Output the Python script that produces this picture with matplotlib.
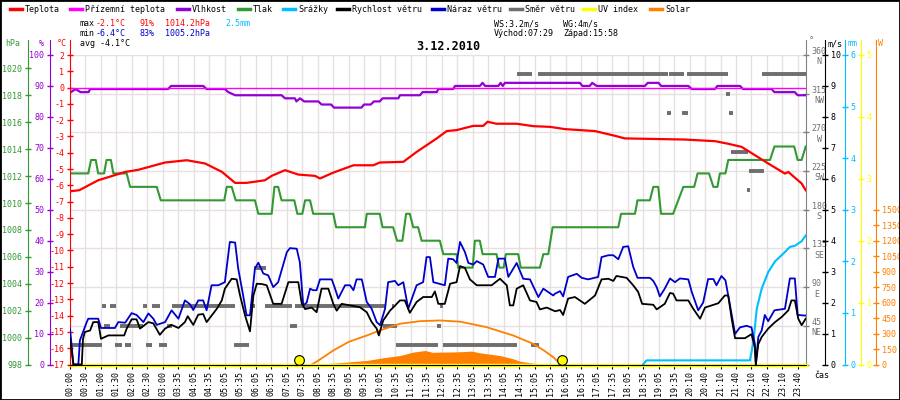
import matplotlib
matplotlib.use('Agg')
import matplotlib.pyplot as plt
from matplotlib.lines import Line2D
from matplotlib.patches import Rectangle

plt.rcParams['font.family'] = ['DejaVu Sans Mono', 'DejaVu Sans']
plt.rcParams['font.size'] = 6
plt.rcParams['axes.unicode_minus'] = False

# x axis: hours, every label slot is half an hour
time_labels = ["00:00", "00:30", "01:00", "01:30", "02:00", "02:30", "03:00", "03:35",
               "04:05", "04:35", "05:05", "05:35", "06:05", "06:35", "07:05", "07:35",
               "08:05", "08:35", "09:05", "09:35", "10:05", "10:35", "11:05", "11:35",
               "12:05", "12:35", "13:05", "13:35", "14:05", "14:35", "15:05", "15:35",
               "16:05", "16:35", "17:05", "17:35", "18:05", "18:35", "19:05", "19:35",
               "20:10", "20:40", "21:10", "21:40", "22:10", "22:40", "23:10", "23:40"]

temp_h = [0.03, 0.3, 0.91, 1.78, 2.2, 3.07, 3.77, 4.36, 4.9, 5.33, 5.7, 6.29, 6.51, 6.94,
          7.37, 7.91, 8.07, 8.5, 9.15, 9.79, 10.0, 10.76, 11.19, 11.84, 12.16, 12.48, 13.02,
          13.34, 13.48, 13.77, 14.42, 14.96, 15.49, 15.98, 16.95, 17.59, 17.91, 19.85, 20.82,
          21.25, 21.68, 22.11, 22.54, 23.08, 23.19, 23.62, 23.75]
temp = [-6.36, -6.3, -5.69, -5.18, -5.05, -4.6, -4.46, -4.66, -5.17, -5.85, -5.85, -5.69,
        -5.42, -5.07, -5.34, -5.42, -5.58, -5.22, -4.77, -4.77, -4.6, -4.56, -3.95, -3.12,
        -2.67, -2.61, -2.35, -2.35, -2.1, -2.22, -2.22, -2.37, -2.41, -2.55, -2.67, -2.96,
        -3.12, -3.19, -3.29, -3.45, -3.64, -4.15, -4.66, -5.28, -5.18, -5.89, -6.3]

ground_h = [0.0, 23.76]
ground_temp = [0.0, 0.0]

hum_h = [0.03, 0.18, 0.34, 0.6, 0.65, 3.17, 3.26, 4.3, 4.41, 5.0, 5.11, 5.33, 6.83, 6.94,
         7.26, 7.31, 7.425, 7.56, 8.02, 8.12, 8.43, 8.52, 9.41, 9.49, 9.71, 9.81, 10.0, 10.09,
         10.6, 10.65, 11.3, 11.38, 11.84, 11.89, 12.37, 12.43, 13.23, 13.32, 13.4, 13.83,
         13.9, 13.97, 14.04, 16.46, 16.54, 16.78, 16.86, 17.0, 18.56, 18.65, 19.0, 19.08,
         19.96, 20.07, 20.82, 20.9, 21.63, 21.73, 22.65, 22.74, 23.4, 23.49, 23.75]
hum = [88, 89, 88, 88, 89, 89, 90, 90, 89, 89, 88, 87, 87, 86, 86, 85, 86, 85, 85, 84, 84,
       83, 83, 84, 84, 85, 85, 86, 86, 87, 87, 88, 88, 89, 89, 90, 90, 91, 90, 90, 91, 90,
       91, 91, 90, 90, 91, 90, 90, 91, 91, 90, 90, 89, 89, 90, 90, 89, 89, 88, 88, 87, 87]

pres_h = [0.03, 0.59, 0.68, 0.83, 0.91, 1.1, 1.18, 1.32, 1.4, 1.83, 1.94, 2.8, 2.93, 4.98,
          5.06, 5.22, 5.35, 5.97, 6.08, 6.51, 6.6, 6.72, 6.83, 7.24, 7.34, 7.5, 7.59, 7.75,
          7.85, 8.5, 8.59, 9.52, 9.58, 10.0, 10.09, 10.43, 10.56, 10.73, 10.85, 10.97, 11.08,
          11.24, 11.35, 11.94, 12.05, 12.48, 12.53, 13.0, 13.07, 13.23, 13.32, 13.77, 13.86,
          14.0, 14.07, 14.47, 14.55, 15.17, 15.28, 15.44, 15.58, 17.7, 17.79, 18.24, 18.32,
          18.72, 18.83, 18.99, 19.08, 19.47, 19.8, 20.15, 20.26, 20.63, 20.77, 20.9, 20.98,
          21.16, 21.25, 22.6, 22.74, 23.38, 23.49, 23.62, 23.75]
pres = [1012.2, 1012.2, 1013.2, 1013.2, 1012.2, 1012.2, 1013.2, 1013.2, 1012.2, 1012.2,
        1011.2, 1011.2, 1010.2, 1010.2, 1011.2, 1011.2, 1010.2, 1010.2, 1009.2, 1009.2,
        1011.2, 1011.2, 1010.2, 1010.2, 1009.2, 1009.2, 1010.2, 1010.2, 1009.2, 1009.2,
        1008.2, 1008.2, 1009.2, 1009.2, 1008.2, 1008.2, 1007.2, 1007.2, 1009.2, 1009.2,
        1008.2, 1008.2, 1007.2, 1007.2, 1006.2, 1006.2, 1005.2, 1005.2, 1007.2, 1007.2,
        1006.2, 1006.2, 1005.2, 1005.2, 1006.2, 1006.2, 1005.2, 1005.2, 1006.2, 1006.2,
        1008.2, 1008.2, 1009.2, 1009.2, 1010.2, 1010.2, 1011.2, 1011.2, 1009.2, 1009.2,
        1011.2, 1011.2, 1012.2, 1012.2, 1011.2, 1011.2, 1012.2, 1012.2, 1013.2, 1013.2,
        1014.2, 1014.2, 1013.2, 1013.2, 1014.2]

gust_h = [0.0, 0.11, 0.27, 0.32, 0.54, 0.59, 0.91, 1.0, 1.45, 1.56, 1.78, 1.99, 2.15, 2.37,
          2.53, 2.69, 2.8, 3.07, 3.28, 3.5, 3.71, 3.87, 3.98, 4.14, 4.3, 4.41, 4.57, 4.79,
          5.0, 5.16, 5.33, 5.43, 5.59, 5.7, 5.81, 5.97, 6.08, 6.24, 6.4, 6.56, 6.72, 7.0,
          7.1, 7.32, 7.42, 7.53, 7.64, 7.75, 7.85, 7.96, 8.07, 8.45, 8.55, 8.66, 8.88, 9.04,
          9.15, 9.25, 9.42, 9.58, 9.74, 9.9, 10.01, 10.17, 10.27, 10.49, 10.6, 10.76, 10.92,
          11.19, 11.4, 11.51, 11.62, 11.73, 12.1, 12.21, 12.37, 12.48, 12.59, 12.75, 12.86,
          13.02, 13.13, 13.34, 13.5, 13.72, 13.83, 14.04, 14.15, 14.42, 14.63, 14.85, 15.12,
          15.28, 15.6, 15.66, 15.82, 15.92, 16.08, 16.36, 16.52, 16.73, 17.05, 17.16, 17.38,
          17.54, 17.7, 17.86, 18.02, 18.18, 18.32, 18.72, 18.83, 18.94, 19.04, 19.2, 19.37,
          19.53, 19.69, 19.96, 20.07, 20.28, 20.44, 20.6, 20.77, 20.87, 21.03, 21.16, 21.3,
          21.47, 21.63, 21.84, 22.0, 22.11, 22.14, 22.22, 22.33, 22.43, 22.54, 22.74, 23.08,
          23.24, 23.4, 23.49, 23.75]
gust = [1.16, 0.0, 0.0, 0.78, 1.37, 1.48, 1.48, 1.18, 1.18, 1.37, 1.35, 1.66, 1.6, 1.37,
        1.65, 1.48, 1.28, 1.37, 1.75, 1.48, 2.07, 1.95, 1.76, 2.07, 2.07, 1.75, 2.56, 2.56,
        2.66, 3.96, 3.94, 3.1, 2.23, 1.59, 1.59, 3.1, 3.29, 2.94, 2.88, 2.5, 2.66, 3.63,
        3.76, 3.74, 3.3, 1.91, 2.0, 2.45, 2.4, 2.4, 2.75, 2.75, 2.47, 2.13, 2.56, 2.56,
        2.4, 2.75, 2.75, 2.02, 1.8, 1.37, 1.27, 1.8, 2.66, 2.7, 2.56, 2.66, 1.8, 2.56,
        2.66, 3.47, 3.47, 2.66, 2.56, 3.42, 3.4, 3.28, 3.96, 3.63, 3.28, 3.23, 3.34, 3.23,
        2.83, 2.83, 3.42, 3.42, 2.83, 3.28, 2.77, 2.75, 2.18, 2.45, 2.23, 2.29, 2.37, 2.2,
        2.83, 2.93, 2.8, 2.75, 2.83, 3.47, 3.53, 3.53, 3.4, 3.8, 3.82, 3.16, 2.8, 2.8, 2.7,
        2.5, 2.2, 2.45, 2.78, 2.66, 2.78, 2.75, 2.35, 1.75, 2.0, 2.76, 2.76, 2.56, 2.86,
        2.72, 1.95, 0.99, 1.2, 1.25, 1.2, 0.66, 0.0, 0.89, 1.1, 1.6, 1.4, 1.75, 1.8, 2.78,
        2.78, 1.6, 1.58]

speed_h = [0.0, 0.11, 0.38, 0.42, 0.48, 0.65, 0.75, 0.91, 1.0, 1.24, 1.75, 1.83, 1.99, 2.15,
           2.26, 2.53, 2.69, 2.9, 3.07, 3.28, 3.5, 3.71, 3.8, 3.98, 4.14, 4.3, 4.41, 4.74,
           4.9, 5.0, 5.22, 5.38, 5.49, 5.65, 5.81, 5.92, 6.03, 6.19, 6.35, 6.56, 6.83, 7.05,
           7.37, 7.48, 7.59, 7.8, 7.96, 8.12, 8.34, 8.5, 8.61, 8.77, 9.36, 9.58, 9.74, 9.9,
           9.97, 10.11, 10.33, 10.49, 10.65, 10.81, 10.97, 11.19, 11.4, 11.68, 11.78, 11.89,
           12.1, 12.27, 12.48, 12.59, 12.75, 12.91, 13.13, 13.61, 13.88, 14.1, 14.2, 14.31,
           14.42, 14.63, 14.85, 15.06, 15.17, 15.39, 15.66, 15.82, 15.92, 16.08, 16.3, 16.62,
           16.95, 17.16, 17.38, 17.54, 17.64, 17.97, 18.18, 18.34, 18.47, 18.83, 18.94, 19.2,
           19.37, 19.47, 19.58, 19.96, 20.12, 20.34, 20.5, 20.93, 21.14, 21.25, 21.36, 21.47,
           21.79, 22.0, 22.11, 22.14, 22.22, 22.33, 22.54, 22.76, 22.97, 23.19, 23.29, 23.4,
           23.51, 23.62, 23.75]
speed = [0.83, 0.0, 0.0, 0.83, 1.05, 1.1, 1.37, 1.37, 0.83, 0.94, 0.94, 1.16, 1.46, 1.46,
         1.16, 1.37, 1.33, 0.96, 1.16, 1.28, 1.18, 1.37, 1.56, 1.28, 1.61, 1.63, 1.37, 1.8,
         2.07, 2.45, 2.77, 2.75, 2.23, 1.59, 1.07, 2.23, 2.61, 2.6, 2.56, 1.96, 1.96, 2.66,
         2.66, 1.98, 1.79, 1.84, 1.69, 2.45, 2.45, 1.96, 1.74, 1.96, 1.85, 1.69, 1.37, 1.16,
         0.94, 1.42, 1.74, 1.9, 2.07, 2.07, 1.67, 2.02, 2.18, 2.18, 2.36, 1.96, 1.96, 2.61,
         2.66, 3.18, 3.12, 2.75, 2.56, 2.56, 2.77, 2.56, 1.91, 1.91, 2.45, 2.56, 2.07, 2.02,
         1.78, 1.84, 1.72, 1.76, 1.6, 2.13, 2.18, 1.96, 2.23, 2.75, 2.77, 2.7, 2.86, 2.8,
         2.56, 2.35, 1.96, 1.93, 1.78, 1.96, 2.31, 2.29, 2.07, 2.07, 1.8, 1.48, 1.84, 1.98,
         2.23, 2.23, 1.48, 0.85, 0.85, 0.98, 0.55, 0.0, 0.66, 0.89, 1.16, 1.37, 1.53, 1.75,
         2.07, 2.07, 1.48, 1.27, 1.48]

rain_h = [18.5, 18.61, 21.95, 22.06, 22.17, 22.33, 22.54, 22.76, 23.08, 23.24, 23.4, 23.62, 23.75]
rain = [0.0, 0.08, 0.08, 0.43, 1.08, 1.47, 1.79, 2.0, 2.18, 2.28, 2.3, 2.39, 2.5]

solar_max_h = [7.8, 8.0, 8.5, 9.0, 9.58, 10.0, 10.65, 11.3, 11.94, 12.6, 13.45, 14.0, 14.31,
               14.95, 15.3, 15.6, 15.85]
solar_max = [0, 35, 136, 220, 281, 330, 395, 420, 427, 415, 362, 310, 281, 201, 136, 71, 0]

solar_h = [7.8, 8.0, 8.5, 9.0, 9.58, 10.1, 10.65, 11.08, 11.46, 11.7, 12.0, 12.4, 12.7,
           12.97, 13.2, 13.45, 13.88, 14.31, 14.52, 14.95, 15.3, 15.6, 15.9]
solar = [0, 5, 13, 25, 39, 65, 87, 120, 136, 118, 120, 122, 125, 130, 115, 104, 87, 55, 32,
         13, 6, 3, 0]

uv_h = [0.0, 23.76]
uv = [0.0, 0.0]

sun_h = [7.40, 15.89]   # Východ 07:29, Západ 15:58

# wind direction bars: start, end, degrees
dir_start = [0.0, 0.03, 1.45, 1.78, 2.45, 2.88, 5.30, 10.52, 12.03, 14.87,
             1.11, 1.61, 3.12, 7.10, 10.11, 11.84,
             1.02, 1.29, 2.37, 2.64, 3.30, 5.81, 6.29, 7.26, 10.38, 11.94,
             5.94,
             14.44, 15.12, 19.35, 19.93, 22.35,
             21.18, 19.26, 19.75, 21.27, 21.33, 21.93, 21.86]
dir_end = [0.06, 1.04, 1.67, 1.96, 2.64, 3.14, 5.79, 11.89, 14.44, 15.13,
           1.30, 2.37, 3.28, 7.32, 10.55, 11.97,
           1.15, 1.48, 2.47, 2.90, 5.33, 5.97, 7.16, 10.17, 10.46, 12.05,
           6.33,
           14.90, 19.29, 19.82, 21.23, 23.82,
           21.30, 19.40, 19.96, 21.41, 21.88, 22.41, 21.96]
dir_deg = [28, 22.5, 22.5, 22.5, 22.5, 22.5, 22.5, 22.5, 22.5, 22.5,
           45, 45, 45, 45, 45, 45,
           67.5, 67.5, 67.5, 67.5, 67.5, 67.5, 67.5, 67.5, 67.5, 67.5,
           112.5,
           337.5, 337.5, 337.5, 337.5, 337.5,
           315, 292.5, 292.5, 292.5, 247.5, 225, 202.5]

dir_ticks = [0, 45, 90, 135, 180, 225, 270, 315, 360]
dir_names = ['', 'NE', 'E', 'SE', 'S', 'SW', 'W', 'NW', 'N']

C_T, C_GT, C_H, C_P, C_R = '#ff0000', '#ff00ff', '#9400d3', '#339933', '#00bfff'
C_WS, C_WG, C_D, C_UV, C_SOL = '#000000', '#0000cc', '#6e6e6e', '#ffff00', '#ff8000'

W, H = 900, 400
fig = plt.figure(figsize=(9, 4), dpi=100)
L, R, T, B = 70, 806, 55, 364.5
ax_dir = fig.add_axes([L / W, 1 - B / H, (R - L) / W, (B - T) / H])
ax_sol = ax_dir.twinx()
ax_uv = ax_dir.twinx()
ax_rain = ax_dir.twinx()
ax_p = ax_dir.twinx()
ax_h = ax_dir.twinx()
ax_t = ax_dir.twinx()
ax_w = ax_dir.twinx()


def style_y(a, side, pos, color, lims, ticks, labels=None, label_color=None):
    for sp in a.spines.values():
        sp.set_visible(False)
    sp = a.spines[side]
    sp.set_visible(True)
    sp.set_color(color)
    sp.set_position(('axes', pos))
    a.set_ylim(*lims)
    a.set_yticks(ticks, labels=labels)
    a.yaxis.set_ticks_position(side)
    a.tick_params(axis='y', colors=color, direction='inout', length=5, width=1,
                  pad=1.5, labelsize=6)
    if label_color:
        a.tick_params(axis='y', labelcolor=label_color)
    lo, hi = lims
    sp.set_bounds(lo, hi + (hi - lo) * 0.05)


dir_labels = [f"{d}\n{n}" if n else '' for d, n in zip(dir_ticks, dir_names)]
style_y(ax_dir, 'right', 1.0, '#808080', (0, 360), dir_ticks, dir_labels, '#707070')
for lbl in ax_dir.get_yticklabels():
    lbl.set_multialignment('center')
style_y(ax_sol, 'right', (876 - L) / (R - L), C_SOL, (0, 3000), list(range(0, 1501, 150)))
style_y(ax_uv, 'right', (861 - L) / (R - L), C_UV, (0, 5), list(range(0, 6)))
style_y(ax_rain, 'right', (845 - L) / (R - L), C_R, (0, 6), list(range(0, 7)))
style_y(ax_p, 'left', (28 - L) / (R - L), C_P, (998, 1021), list(range(998, 1021, 2)))
style_y(ax_h, 'left', (50 - L) / (R - L), C_H, (0, 100), list(range(0, 101, 10)))
style_y(ax_t, 'left', 0.0, C_T, (-17, 2), list(range(-17, 3)))
style_y(ax_w, 'right', (825 - L) / (R - L), C_WS, (0, 10), list(range(0, 11)))
ax_w.spines['bottom'].set_visible(True)
ax_w.spines['bottom'].set_color('black')

ax_dir.set_xlim(0, 23.76)
ax_dir.set_xticks([i * 0.5 for i in range(len(time_labels))], labels=time_labels, rotation=90)
ax_dir.tick_params(axis='x', direction='out', length=3, color='black', pad=2, labelsize=6)
ax_dir.grid(True, color='#e6e0e0', lw=1.0)
ax_dir.set_axisbelow(True)

# series
ax_dir.hlines(dir_deg, dir_start, dir_end, colors=C_D, lw=2.8)
ax_sol.fill_between(solar_h, solar, color=C_SOL, lw=0)
ax_sol.plot(solar_max_h, solar_max, color=C_SOL, lw=1.3)
ax_uv.plot(uv_h, uv, color=C_UV, lw=2.5, clip_on=False)
ax_uv.plot(sun_h, [0.013, 0.013], 'o', ms=7, mfc=C_UV, mec='black', mew=0.8,
           transform=ax_uv.get_xaxis_transform(), clip_on=False, zorder=5)
ax_rain.plot(rain_h, rain, color=C_R, lw=1.5)
ax_p.plot(pres_h, pres, color=C_P, lw=1.5)
ax_h.plot(hum_h, hum, color=C_H, lw=1.6)
ax_t.plot(ground_h, ground_temp, color=C_GT, lw=1.0)
ax_t.plot(temp_h, temp, color=C_T, lw=1.6)
ax_w.plot(gust_h, gust, color=C_WG, lw=1.3)
ax_w.plot(speed_h, speed, color=C_WS, lw=1.3)


def ftext(x, y, s, **kw):
    fig.text(x / W, 1 - y / H, s, va='center', ha=kw.pop('ha', 'left'), **kw)


# legend row
legend_items = [('Teplota', C_T, 10), ('Přízemní teplota', C_GT, 70), ('Vlhkost', C_H, 177),
                ('Tlak', C_P, 238), ('Srážky', C_R, 283), ('Rychlost větru', C_WS, 337),
                ('Náraz větru', C_WG, 432), ('Směr větru', C_D, 510), ('UV index', C_UV, 583),
                ('Solar', C_SOL, 650)]
for name, col, x0 in legend_items:
    fig.add_artist(Line2D([x0 / W, (x0 + 12) / W], [1 - 9 / H] * 2, color=col, lw=2.5))
    ftext(x0 + 15, 9, name)

# summary texts
ftext(80, 24, 'max')
ftext(96, 24, '-2.1°C', color=C_T)
ftext(139, 24, '91%', color=C_T)
ftext(165, 24, '1014.2hPa', color=C_T)
ftext(225, 24, '2.5mm', color=C_R)
ftext(80, 34, 'min')
ftext(96, 34, '-6.4°C', color=C_WG)
ftext(139, 34, '83%', color=C_WG)
ftext(165, 34, '1005.2hPa', color=C_WG)
ftext(80, 43, 'avg -4.1°C')
ftext(494, 24, 'WS:3.2m/s')
ftext(563, 24, 'WG:4m/s')
ftext(494, 34, 'Východ:07:29')
ftext(563, 34, 'Západ:15:58')
ftext(448, 46, '3.12.2010', ha='center', weight='bold', size=8.5)

# axis unit labels
ftext(5, 44, 'hPa', color=C_P)
ftext(39, 44, '%', color=C_H)
ftext(57, 44, '°C', color=C_T)
ftext(809, 41, '°', color='#707070')
ftext(827, 44, 'm/s', color='black')
ftext(847, 44, 'mm', color=C_R)
ftext(878, 44, 'W', color=C_SOL)
ftext(814, 375, 'čas')

fig.add_artist(Rectangle((0, 0), 1, 1, fill=False, edgecolor='black', lw=2,
                         transform=fig.transFigure))

fig.savefig('out.png', dpi=100)
